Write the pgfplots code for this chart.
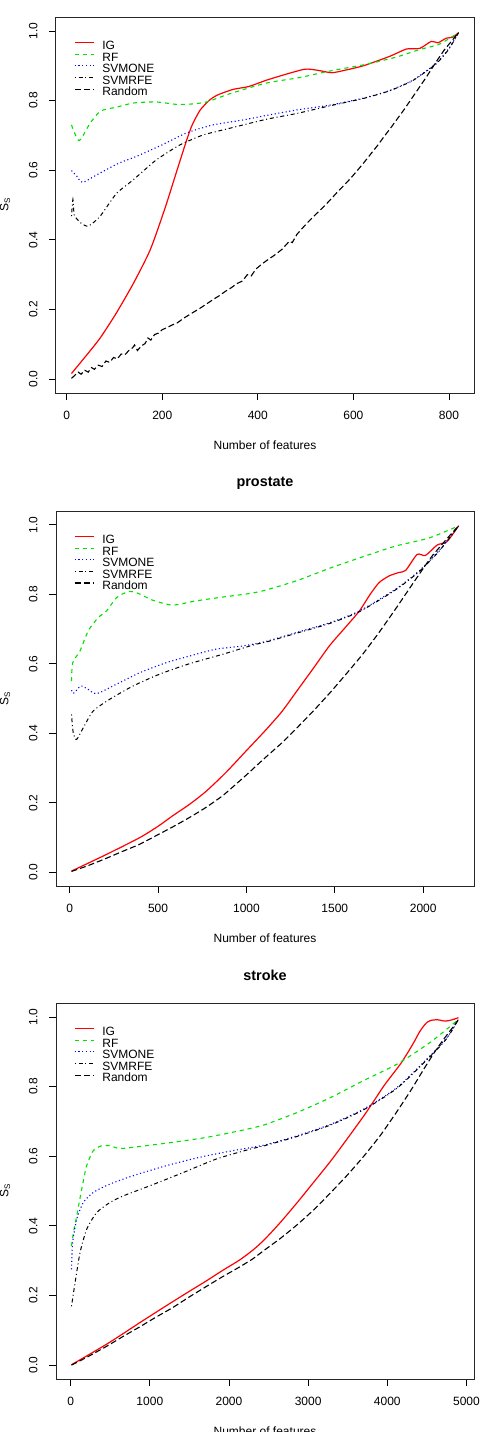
\documentclass[border=0pt]{standalone}
\usepackage{fontspec}
\setmainfont{Liberation Sans}
\usepackage{pgfplots}
\pgfplotsset{compat=1.18}

\definecolor{igcol}{RGB}{255,0,0}
\definecolor{rfcol}{RGB}{0,225,0}
\definecolor{svcol}{RGB}{0,0,255}

% line styles of the five selection methods
\tikzset{
  ig/.style={color=igcol, line width=1.2pt, solid},
  rf/.style={color=rfcol, line width=1.1pt, dash pattern=on 4pt off 4pt},
  svmone/.style={color=svcol, line width=1.1pt, dash pattern=on 1.1pt off 2.6pt},
  svmrfe/.style={color=black, line width=1pt, dash pattern=on 1pt off 2.8pt on 4pt off 2.8pt},
  rnd/.style={color=black, line width=1.1pt, dash pattern=on 6pt off 3pt},
}

\pgfplotsset{
  rpanel/.style={
    scale only axis, width=418pt,
    ymin=-0.04, ymax=1.04,
    ytick={0,0.2,0.4,0.6,0.8,1},
    /pgf/number format/assume math mode=true,
    yticklabel style={rotate=90, anchor=south, yshift=8pt, /pgf/number format/fixed, /pgf/number format/fixed zerofill, /pgf/number format/precision=1},
    xticklabel style={anchor=north, yshift=-8pt, /pgf/number format/fixed, /pgf/number format/1000 sep={}},
    scaled x ticks=false,
    tick align=outside, xtick pos=left, ytick pos=left,
    major tick length=7pt,
    tick style={black, line width=0.8pt},
    axis line style={line width=1pt, black!85},
    tick label style={font=\fontsize{12}{14}\selectfont},
    label style={font=\fontsize{12}{14}\selectfont},
    xlabel={Number of features},
    ylabel={S\textsubscript{S}},
    xlabel style={at={(axis description cs:0.5,0)}, anchor=center, yshift=-52pt},
    ylabel style={at={(axis description cs:-0.122,0.5)}, anchor=center},
    title style={font=\bfseries\fontsize{14.4}{16}\selectfont, at={(axis description cs:0.5,1)}, anchor=center, yshift=22pt},
    legend cell align=left,
    legend image code/.code={\draw[##1] (0pt,4pt) -- (19pt,4pt);},
    legend style={draw=none, fill=none, inner sep=0pt, row sep=0pt,
      at={(axis description cs:0.043,0.937)}, anchor=north west,
      font=\fontsize{12}{12}\selectfont,
      nodes={inner sep=0pt, text height=8.6pt, text depth=3pt},
      /tikz/every odd column/.append style={column sep=8pt}},
  },
}

\begin{document}
\begin{tikzpicture}[x=1pt,y=1pt]
\useasboundingbox (0,0) rectangle (481,-1432);
\clip (0,0) rectangle (481,-1432);

% ---------------- first data set ----------------
\begin{axis}[rpanel, height=376pt, at={(56pt,-393pt)}, anchor=south west,
  xmin=-22.4, xmax=852.4, xtick={0,200,400,600,800}]
\addplot[ig, smooth, tension=0.4] coordinates {(10,0.016)(40,0.066)(70,0.118)(104,0.190)(140,0.276)(175,0.372)(206,0.492)(230,0.596)(250,0.682)(262,0.728)(279,0.772)(298,0.800)(314,0.815)(348,0.832)(380,0.840)(417,0.858)(450,0.872)(498,0.890)(525,0.887)(555,0.880)(585,0.888)(621,0.900)(676,0.927)(711,0.948)(739,0.950)(763,0.970)(777,0.966)(794,0.979)(808,0.982)(820,0.995)};
\addlegendentry{IG}
\addplot[rf, smooth, tension=0.4] coordinates {(10,0.730)(26,0.685)(49,0.735)(71,0.770)(104,0.781)(140,0.793)(187,0.796)(230,0.789)(260,0.790)(293,0.796)(340,0.819)(417,0.850)(487,0.866)(551,0.885)(626,0.904)(690,0.925)(740,0.947)(780,0.962)(820,0.995)};
\addlegendentry{RF}
\addplot[svmone, smooth, tension=0.4] coordinates {(10,0.599)(20,0.585)(33,0.565)(62,0.586)(106,0.618)(150,0.642)(200,0.673)(251,0.707)(306,0.730)(368,0.744)(417,0.757)(482,0.773)(551,0.787)(621,0.807)(676,0.829)(725,0.859)(773,0.907)(800,0.950)(820,0.995)};
\addlegendentry{SVMONE}
\addplot[svmrfe, smooth, tension=0.3] coordinates {(10,0.468)(13,0.516)(16,0.470)(30,0.448)(45,0.439)(69,0.466)(104,0.533)(139,0.572)(187,0.629)(236,0.672)(285,0.701)(340,0.720)(417,0.746)(482,0.763)(551,0.785)(621,0.806)(676,0.828)(725,0.858)(773,0.905)(800,0.948)(820,0.995)};
\addlegendentry{SVMRFE}
\addplot[rnd] coordinates {(10,0.002)(18,0.012)(24,0.020)(30,0.014)(38,0.025)(45,0.020)(52,0.033)(58,0.028)(66,0.040)(74,0.036)(82,0.052)(90,0.048)(98,0.062)(106,0.058)(114,0.072)(122,0.070)(130,0.082)(138,0.090)(142,0.098)(148,0.082)(156,0.095)(164,0.102)(170,0.118)(176,0.112)(184,0.128)(192,0.132)(200,0.142)(210,0.148)(220,0.155)(232,0.162)(245,0.175)(258,0.186)(270,0.196)(282,0.206)(295,0.218)(308,0.230)(320,0.240)(332,0.252)(344,0.262)(356,0.274)(368,0.282)(378,0.300)(386,0.296)(396,0.316)(408,0.330)(420,0.342)(435,0.356)(450,0.372)(466,0.396)(472,0.392)(482,0.416)(495,0.436)(510,0.458)(525,0.478)(540,0.498)(551,0.514)(565,0.535)(580,0.556)(595,0.578)(610,0.602)(621,0.620)(636,0.646)(650,0.670)(665,0.698)(680,0.725)(690,0.744)(705,0.772)(720,0.802)(735,0.832)(750,0.862)(760,0.883)(775,0.915)(790,0.945)(805,0.970)(820,0.995)};
\addlegendentry{Random}
\end{axis}

% ---------------- prostate ----------------
\begin{axis}[rpanel, height=375pt, at={(56pt,-886pt)}, anchor=south west,
  title={prostate},
  xmin=-77.6, xmax=2287.6, xtick={0,500,1000,1500,2000}]
\addplot[ig, smooth, tension=0.4] coordinates {(10,0.003)(208,0.051)(395,0.099)(500,0.132)(582,0.162)(680,0.196)(770,0.232)(880,0.285)(1000,0.350)(1107,0.408)(1200,0.462)(1283,0.520)(1380,0.588)(1470,0.652)(1560,0.705)(1639,0.752)(1700,0.800)(1751,0.834)(1807,0.853)(1863,0.863)(1901,0.869)(1966,0.915)(2013,0.912)(2079,0.942)(2135,0.952)(2200,0.997)};
\addlegendentry{IG}
\addplot[rf, smooth, tension=0.4] coordinates {(10,0.550)(17,0.603)(58,0.637)(105,0.695)(161,0.733)(208,0.752)(264,0.790)(330,0.808)(376,0.805)(420,0.795)(470,0.783)(582,0.769)(713,0.781)(863,0.792)(1013,0.802)(1107,0.812)(1283,0.839)(1470,0.875)(1657,0.908)(1844,0.939)(2032,0.962)(2200,0.997)};
\addlegendentry{RF}
\addplot[svmone, smooth, tension=0.4] coordinates {(10,0.524)(20,0.515)(30,0.518)(62,0.536)(100,0.528)(152,0.514)(264,0.541)(395,0.574)(545,0.603)(676,0.622)(826,0.642)(976,0.651)(1107,0.664)(1283,0.690)(1470,0.718)(1639,0.752)(1844,0.815)(1976,0.867)(2088,0.925)(2200,0.997)};
\addlegendentry{SVMONE}
\addplot[svmrfe, smooth, tension=0.4] coordinates {(10,0.454)(20,0.401)(39,0.382)(77,0.416)(133,0.464)(227,0.498)(358,0.536)(508,0.570)(676,0.600)(863,0.627)(1051,0.656)(1107,0.662)(1283,0.688)(1470,0.716)(1639,0.750)(1844,0.813)(1976,0.865)(2088,0.923)(2200,0.997)};
\addlegendentry{SVMRFE}
\addplot[rnd, smooth, tension=0.3] coordinates {(10,0.002)(100,0.018)(208,0.040)(300,0.060)(395,0.080)(500,0.108)(582,0.130)(680,0.158)(770,0.186)(870,0.222)(1000,0.280)(1096,0.325)(1200,0.372)(1283,0.414)(1380,0.465)(1470,0.515)(1560,0.568)(1657,0.627)(1750,0.690)(1844,0.758)(1920,0.815)(1994,0.870)(2050,0.910)(2107,0.944)(2160,0.975)(2200,0.997)};
\addlegendentry{Random}
\end{axis}

% ---------------- stroke ----------------
\begin{axis}[rpanel, height=376pt, at={(56pt,-1379pt)}, anchor=south west,
  title={stroke},
  xmin=-185.6, xmax=5095.6, xtick={0,1000,2000,3000,4000,5000}]
\addplot[ig, smooth, tension=0.4] coordinates {(10,0.001)(200,0.026)(454,0.060)(660,0.090)(874,0.122)(1080,0.152)(1295,0.183)(1500,0.212)(1715,0.242)(1920,0.272)(2135,0.302)(2300,0.330)(2446,0.360)(2650,0.410)(2866,0.468)(3080,0.528)(3288,0.587)(3500,0.652)(3707,0.717)(3840,0.762)(3960,0.803)(4070,0.836)(4170,0.866)(4260,0.898)(4338,0.928)(4410,0.958)(4464,0.975)(4500,0.984)(4549,0.990)(4633,0.992)(4700,0.989)(4738,0.988)(4822,0.992)(4900,0.998)};
\addlegendentry{IG}
\addplot[rf, smooth, tension=0.4] coordinates {(10,0.342)(34,0.380)(76,0.428)(139,0.505)(202,0.573)(286,0.616)(391,0.630)(496,0.630)(622,0.622)(874,0.628)(1295,0.640)(1715,0.654)(2135,0.673)(2446,0.690)(2866,0.726)(3288,0.769)(3707,0.818)(4127,0.865)(4549,0.928)(4900,0.993)};
\addlegendentry{RF}
\addplot[svmone, smooth, tension=0.4] coordinates {(10,0.275)(25,0.352)(76,0.419)(160,0.467)(286,0.496)(496,0.520)(790,0.544)(1211,0.573)(1631,0.597)(2052,0.616)(2446,0.632)(2866,0.659)(3288,0.692)(3707,0.736)(4127,0.798)(4549,0.890)(4758,0.942)(4900,0.993)};
\addlegendentry{SVMONE}
\addplot[svmrfe, smooth, tension=0.4] coordinates {(10,0.169)(55,0.236)(118,0.323)(202,0.390)(328,0.438)(496,0.467)(664,0.486)(1000,0.515)(1421,0.553)(1841,0.592)(2261,0.620)(2446,0.630)(2866,0.657)(3288,0.690)(3707,0.734)(4127,0.796)(4549,0.888)(4758,0.940)(4900,0.993)};
\addlegendentry{SVMRFE}
\addplot[rnd, smooth, tension=0.3] coordinates {(10,0.000)(200,0.022)(454,0.054)(660,0.082)(874,0.110)(1080,0.138)(1295,0.166)(1500,0.196)(1715,0.226)(1920,0.254)(2135,0.282)(2300,0.305)(2446,0.330)(2650,0.364)(2866,0.404)(3080,0.448)(3288,0.496)(3500,0.547)(3707,0.601)(3920,0.662)(4127,0.730)(4300,0.790)(4464,0.851)(4600,0.900)(4716,0.937)(4820,0.968)(4900,0.993)};
\addlegendentry{Random}
\end{axis}
\end{tikzpicture}
\end{document}
